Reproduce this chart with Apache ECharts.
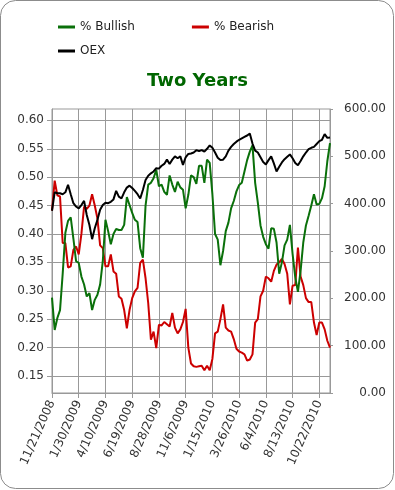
<!DOCTYPE html>
<html>
<head>
<meta charset="utf-8">
<script src="https://cdn.jsdelivr.net/npm/echarts@6/dist/echarts.min.js"></script>
<style>
html,body{margin:0;padding:0;background:#fff;}
#chart{width:395px;height:490px;}
</style>
</head>
<body>
<div id="chart"></div>
<script>
const dates = [
 "11/21/2008","11/28/2008","12/5/2008","12/12/2008","12/19/2008","12/26/2008",
 "1/2/2009","1/9/2009","1/16/2009","1/23/2009","1/30/2009","2/6/2009","2/13/2009","2/20/2009","2/27/2009",
 "3/6/2009","3/13/2009","3/20/2009","3/27/2009","4/3/2009","4/10/2009","4/17/2009","4/24/2009","5/1/2009",
 "5/8/2009","5/15/2009","5/22/2009","5/29/2009","6/5/2009","6/12/2009","6/19/2009","6/26/2009","7/3/2009",
 "7/10/2009","7/17/2009","7/24/2009","7/31/2009","8/7/2009","8/14/2009","8/21/2009","8/28/2009","9/4/2009",
 "9/11/2009","9/18/2009","9/25/2009","10/2/2009","10/9/2009","10/16/2009","10/23/2009","10/30/2009","11/6/2009",
 "11/13/2009","11/20/2009","11/27/2009","12/4/2009","12/11/2009","12/18/2009","12/25/2009",
 "1/1/2010","1/8/2010","1/15/2010","1/22/2010","1/29/2010","2/5/2010","2/12/2010","2/19/2010","2/26/2010",
 "3/5/2010","3/12/2010","3/19/2010","3/26/2010","4/2/2010","4/9/2010","4/16/2010","4/23/2010","4/30/2010",
 "5/7/2010","5/14/2010","5/21/2010","5/28/2010","6/4/2010","6/11/2010","6/18/2010","6/25/2010","7/2/2010",
 "7/9/2010","7/16/2010","7/23/2010","7/30/2010","8/6/2010","8/13/2010","8/20/2010","8/27/2010","9/3/2010",
 "9/10/2010","9/17/2010","9/24/2010","10/1/2010","10/8/2010","10/15/2010","10/22/2010","10/29/2010",
 "11/5/2010","11/12/2010","11/19/2010"
];

const bullish = [
 0.288,0.231,0.252,0.266,0.330,0.402,0.423,0.429,0.392,0.352,
 0.349,0.325,0.311,0.290,0.296,0.266,0.284,0.293,0.311,0.352,
 0.425,0.405,0.382,0.400,0.409,0.407,0.407,0.416,0.465,0.451,
 0.437,0.425,0.421,0.375,0.358,0.450,0.487,0.490,0.498,0.513,
 0.484,0.487,0.474,0.469,0.503,0.487,0.474,0.492,0.482,0.478,
 0.445,0.469,0.503,0.500,0.488,0.520,0.520,0.490,0.531,0.525,
 0.470,0.400,0.390,0.345,0.370,0.405,0.420,0.445,0.458,0.475,
 0.486,0.490,0.510,0.530,0.545,0.556,0.490,0.455,0.415,0.395,
 0.382,0.374,0.410,0.409,0.385,0.330,0.350,0.380,0.390,0.416,
 0.365,0.324,0.298,0.335,0.385,0.415,0.432,0.450,0.470,0.452,
 0.453,0.463,0.484,0.528,0.560
];

const bearish = [
 0.441,0.494,0.468,0.466,0.384,0.384,0.341,0.343,0.372,0.378,
 0.364,0.400,0.448,0.444,0.450,0.470,0.450,0.427,0.380,0.375,
 0.343,0.343,0.364,0.334,0.330,0.290,0.286,0.266,0.234,0.266,
 0.287,0.299,0.305,0.349,0.355,0.322,0.278,0.214,0.228,0.199,
 0.240,0.239,0.245,0.241,0.237,0.261,0.235,0.225,0.232,0.245,
 0.268,0.200,0.172,0.167,0.166,0.167,0.168,0.160,0.168,0.160,
 0.180,0.225,0.228,0.250,0.276,0.235,0.230,0.228,0.215,0.198,
 0.193,0.191,0.188,0.177,0.179,0.188,0.244,0.250,0.290,0.300,
 0.325,0.322,0.316,0.335,0.346,0.350,0.356,0.347,0.330,0.276,
 0.309,0.310,0.376,0.325,0.310,0.287,0.280,0.280,0.244,0.222,
 0.244,0.244,0.232,0.212,0.200
];

const oex = [
 385,424,422,422,420,424,440,420,401,394,
 390,397,406,376,355,325,348,366,387,397,
 402,401,404,409,427,415,411,424,434,438,
 433,427,420,411,429,450,459,464,468,475,
 474,480,484,493,484,493,500,496,500,482,
 498,505,506,508,513,511,513,510,516,523,
 518,508,497,492,493,500,512,520,526,531,
 535,538,541,544,548,527,512,508,498,488,
 483,492,500,485,468,478,487,494,499,504,
 496,486,481,490,500,508,515,518,520,526,
 532,535,547,539,540
];

const leftTicks = [0.15,0.20,0.25,0.30,0.35,0.40,0.45,0.50,0.55,0.60];
const rightTicks = [0,100,200,300,400,500,600];

const FONT = 'DejaVu Sans';
const GRID_COLOR = '#999';
const TEXT_COLOR = '#333';

const chart = echarts.init(document.getElementById('chart'), null, {renderer: 'canvas'});
chart.setOption({
  animation: false,
  backgroundColor: '#fff',
  textStyle: {fontFamily: FONT},
  graphic: [{
    type: 'rect', silent: true, z: -1,
    shape: {x: 0.5, y: 0.5, width: 393, height: 488, r: 15},
    style: {fill: '#fff', stroke: '#8c8c8c', lineWidth: 1}
  }],
  title: {
    text: 'Two Years', left: 'center', top: 70, padding: 0,
    textStyle: {fontFamily: FONT, fontSize: 18, fontWeight: 'bold', color: '#006600', lineHeight: 22}
  },
  legend: [{
    data: ['% Bullish', '% Bearish'], left: 58, top: 21, padding: 0,
    icon: 'rect', itemWidth: 17, itemHeight: 3, itemGap: 57,
    textStyle: {fontFamily: FONT, fontSize: 12, color: '#222'}
  }, {
    data: ['OEX'], left: 58, top: 45, padding: 0,
    icon: 'rect', itemWidth: 17, itemHeight: 3,
    textStyle: {fontFamily: FONT, fontSize: 12, color: '#222'}
  }],
  grid: {left: 52, top: 109, right: 65, bottom: 97, show: true, borderColor: GRID_COLOR, borderWidth: 1, containLabel: false},
  xAxis: {
    type: 'category', data: dates, boundaryGap: false,
    axisLine: {lineStyle: {color: GRID_COLOR}},
    axisTick: {show: true, length: 5, interval: (i) => i % 10 === 0, lineStyle: {color: GRID_COLOR}},
    axisLabel: {interval: (i) => i % 10 === 0, rotate: 66, fontSize: 12, fontFamily: FONT, color: TEXT_COLOR, margin: 8},
    splitLine: {show: true, interval: (i) => i % 10 === 0, lineStyle: {color: GRID_COLOR}}
  },
  yAxis: [{
    type: 'value', min: 0.12, max: 0.62, position: 'left',
    axisLine: {show: true, lineStyle: {color: GRID_COLOR}},
    axisTick: {show: true, length: 5, customValues: leftTicks, lineStyle: {color: GRID_COLOR}},
    axisLabel: {customValues: leftTicks, formatter: (v) => v.toFixed(2), fontSize: 12, fontFamily: FONT, color: TEXT_COLOR, margin: 8},
    splitLine: {show: true, lineStyle: {color: GRID_COLOR}}
  }, {
    type: 'value', min: 0, max: 600, interval: 100, position: 'right',
    axisLine: {show: true, lineStyle: {color: GRID_COLOR}},
    axisTick: {show: true, length: 3, lineStyle: {color: GRID_COLOR}},
    axisLabel: {formatter: (v) => v.toFixed(2), fontSize: 12, fontFamily: FONT, color: TEXT_COLOR, align: 'right', margin: 56},
    splitLine: {show: false}
  }],
  series: [{
    name: '% Bullish', type: 'line', data: bullish, yAxisIndex: 0,
    symbol: 'none', lineStyle: {color: '#0a700a', width: 2}, itemStyle: {color: '#0a700a'}, z: 3
  }, {
    name: '% Bearish', type: 'line', data: bearish, yAxisIndex: 0,
    symbol: 'none', lineStyle: {color: '#cc0000', width: 2}, itemStyle: {color: '#cc0000'}, z: 2
  }, {
    name: 'OEX', type: 'line', data: oex, yAxisIndex: 1,
    symbol: 'none', lineStyle: {color: '#000000', width: 2}, itemStyle: {color: '#000000'}, z: 4
  }]
});
</script>
</body>
</html>
